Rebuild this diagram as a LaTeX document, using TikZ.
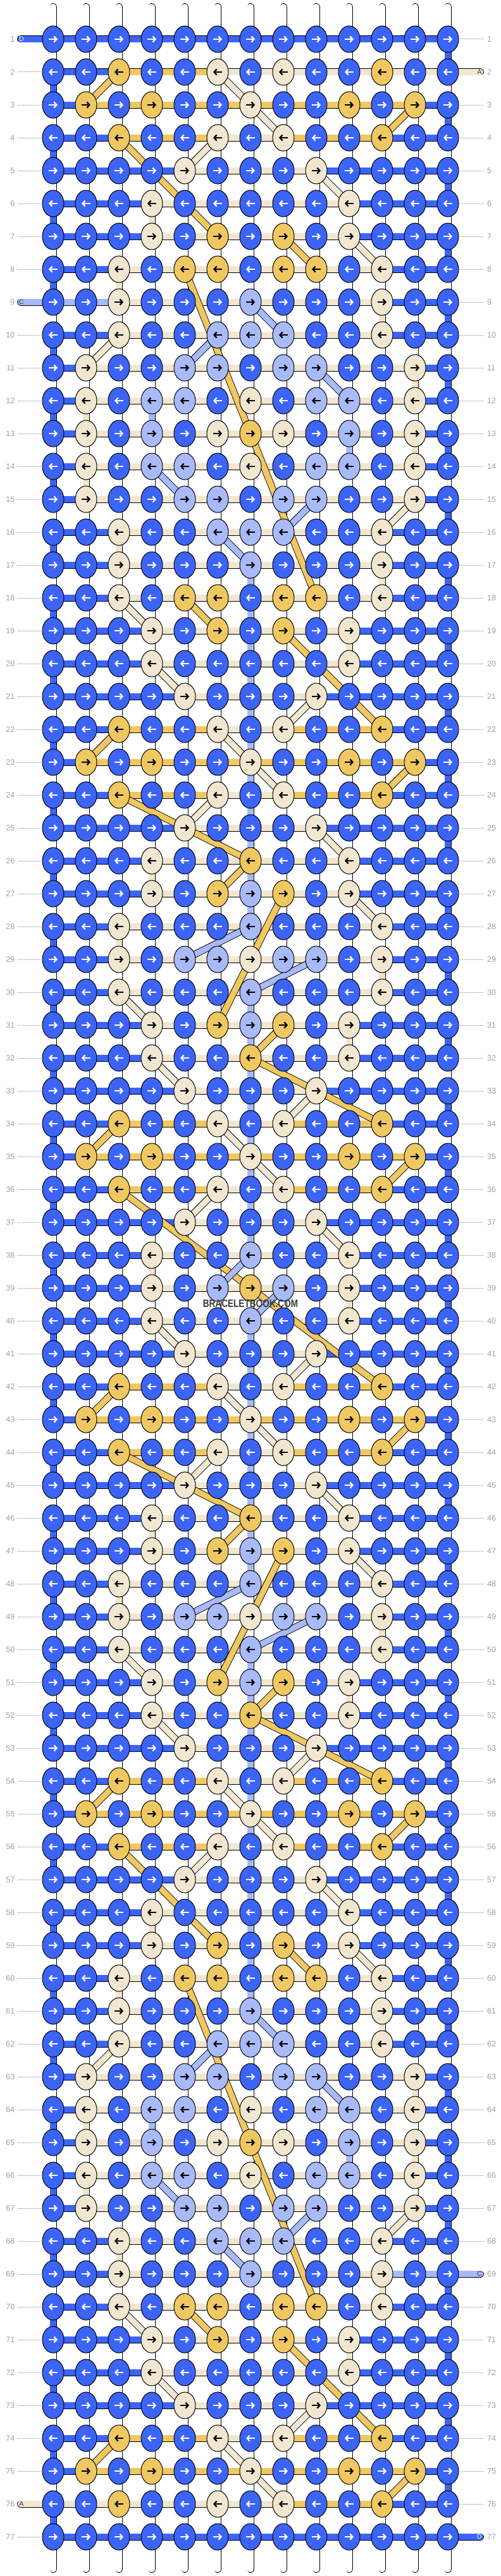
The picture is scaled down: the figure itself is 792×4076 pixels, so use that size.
\documentclass[tikz,border=0pt]{standalone}
\usepackage{fontspec}
\setmainfont{Liberation Sans}
\usetikzlibrary{shapes.geometric,arrows.meta}
\definecolor{cB}{HTML}{3C64F6}
\definecolor{cY}{HTML}{F0C862}
\definecolor{cC}{HTML}{F1E7D0}
\definecolor{cL}{HTML}{A8BAFA}
\definecolor{cW}{HTML}{FFFFFF}
\colorlet{aB}{white}
\colorlet{aY}{black}
\colorlet{aC}{black}
\colorlet{aL}{black}
\definecolor{numgray}{HTML}{A0A0A0}
\definecolor{linegray}{HTML}{C4C4C4}
\definecolor{wmgray}{HTML}{3C3C3C}
\definecolor{lblgray}{HTML}{333333}
\pgfdeclarelayer{bg}
\pgfsetlayers{bg,main}
\tikzset{
  knot/.style={ellipse, draw=black, line width=1pt, fill=c#1, minimum width=34pt, minimum height=42pt, inner sep=0pt},
  band/.style={draw=black, line width=0.9pt, double=c#1, double distance=9.2pt},
  arr/.style={draw=a#1, line width=2.3pt, -{Straight Barb[length=4pt,width=9pt]}},
  rownum/.style={text=numgray, font=\fontsize{12.5}{12.5}\selectfont, inner sep=0pt},
  rowline/.style={draw=linegray, line width=1pt},
  endlabel/.style={font=\fontsize{10.5}{10.5}\selectfont, inner sep=0pt},
}
\makeatletter
\newcount\kcnt
% knots of row #1 and of its 180-degree twin
\newcommand\KR[2]{%
  \ifodd#1\relax\def\dsg{1}\else\def\dsg{-1}\fi
  \pgfmathtruncatemacro\rtw{78-#1}%
  \kcnt=0
  \@tfor\ch:=#2\do{%
    \edef\ka{\the\kcnt}%
    \pgfmathtruncatemacro\kb{12-\kcnt}%
    \node[knot=\ch] (k-#1-\ka) at ({84+52*\ka},{10+52*#1}) {};
    \draw[arr=\ch] ([xshift={-7*\dsg}]k-#1-\ka.center) -- ([xshift={7*\dsg}]k-#1-\ka.center);
    \ifnum#1<39
      \node[knot=\ch] (k-\rtw-\kb) at ({84+52*\kb},{10+52*\rtw}) {};
      \draw[arr=\ch] ([xshift={-7*\dsg}]k-\rtw-\kb.center) -- ([xshift={7*\dsg}]k-\rtw-\kb.center);
    \fi
    \advance\kcnt by 1\relax}}
% horizontal threads of row #1 and twin
\newcommand\SR[2]{%
  \pgfmathtruncatemacro\rtw{78-#1}%
  \kcnt=0
  \@tfor\ch:=#2\do{%
    \edef\ka{\the\kcnt}%
    \pgfmathtruncatemacro\kn{\kcnt+1}%
    \draw[band=\ch] (k-#1-\ka.center) -- (k-#1-\kn.center);
    \ifnum#1<39
      \pgfmathtruncatemacro\kb{11-\kcnt}%
      \pgfmathtruncatemacro\kbn{12-\kcnt}%
      \draw[band=\ch] (k-\rtw-\kb.center) -- (k-\rtw-\kbn.center);
    \fi
    \advance\kcnt by 1\relax}}
% vertical threads between row #1 and #1+1, and twin
\newcommand\GR[2]{%
  \pgfmathtruncatemacro\rn{#1+1}%
  \pgfmathtruncatemacro\rta{77-#1}%
  \pgfmathtruncatemacro\rtb{78-#1}%
  \kcnt=0
  \@tfor\ch:=#2\do{%
    \edef\ka{\the\kcnt}%
    \pgfmathtruncatemacro\kb{12-\kcnt}%
    \draw[band=\ch] (k-#1-\ka.center) -- (k-\rn-\ka.center);
    \draw[band=\ch] (k-\rta-\kb.center) -- (k-\rtb-\kb.center);
    \advance\kcnt by 1\relax}}
\makeatother

\begin{document}
\begin{tikzpicture}[x=1pt,y=-1pt]
\path[use as bounding box] (0,0) rectangle (792,4076);
% ---------------- knots ----------------
\KR{1}{BBBBBBBBBBBBB}
\KR{2}{BBYBBCBCBBYBB}
\KR{3}{BYBYBBCBBYBYB}
\KR{4}{BBYBBCBCBBYBB}
\KR{5}{BBBBCBBBCBBBB}
\KR{6}{BBBCBBBBBCBBB}
\KR{7}{BBBCBYBYBCBBB}
\KR{8}{BBCBYYBYYBCBB}
\KR{9}{BBCBBBLBBBCBB}
\KR{10}{BBCBBLLLBBCBB}
\KR{11}{BCBBLLBLLBBCB}
\KR{12}{BCBLLBCBLLBCB}
\KR{13}{BCBLBCYCBLBCB}
\KR{14}{BCBLLBCBLLBCB}
\KR{15}{BCBBLLBLLBBCB}
\KR{16}{BBCBBLLLBBCBB}
\KR{17}{BBCBBBLBBBCBB}
\KR{18}{BBCBYYBYYBCBB}
\KR{19}{BBBCBYBYBCBBB}
\KR{20}{BBBCBBBBBCBBB}
\KR{21}{BBBBCBBBCBBBB}
\KR{22}{BBYBBCBCBBYBB}
\KR{23}{BYBYBBCBBYBYB}
\KR{24}{BBYBBCBCBBYBB}
\KR{25}{BBBBCBBBCBBBB}
\KR{26}{BBBCBBYBBCBBB}
\KR{27}{BBBCBYLYBCBBB}
\KR{28}{BBCBBBLBBBCBB}
\KR{29}{BBCBLLCLLBCBB}
\KR{30}{BBCBBBLBBBCBB}
\KR{31}{BBBCBYLYBCBBB}
\KR{32}{BBBCBBYBBCBBB}
\KR{33}{BBBBCBBBCBBBB}
\KR{34}{BBYBBCBCBBYBB}
\KR{35}{BYBYBBCBBYBYB}
\KR{36}{BBYBBCBCBBYBB}
\KR{37}{BBBBCBBBCBBBB}
\KR{38}{BBBCBBLBBCBBB}
\KR{39}{BBBCBLYLBCBBB}
% ---------------- threads ----------------
\begin{pgfonlayer}{bg}
\fill[white] (0,0) rectangle (792,4076);
\foreach \c in {0,...,12}{
  \coordinate (t-\c) at ({84+52*\c},10.5);
  \coordinate (b-\c) at ({84+52*\c},4065.5);
  \draw[band=W, line cap=round] (t-\c) -- (k-1-\c.center);
  \draw[band=W, line cap=round] (b-\c) -- (k-77-\c.center);
}
\GR{1}{WWWWWWWWWWWWB}
\GR{2}{BWWWWWWWWWWWW}
\GR{3}{WWWWWWWWWWWWB}
\GR{4}{BWWWWWWWWWWWW}
\GR{5}{WWWWWWWWWWWWB}
\GR{6}{BWWCWWWWWWWWW}
\GR{7}{WWWWWWWWWWWWB}
\GR{8}{BWCWWWWWWWWWW}
\GR{9}{WWWWWWWWWWCWB}
\GR{10}{BWWWWWWWWWWWW}
\GR{11}{WWWWWWWWWWWCB}
\GR{12}{BCWLWWWWWWWWW}
\GR{13}{WWWWWWWWWLWCB}
\GR{14}{BCWWWWWWWWWWW}
\GR{15}{WWWWWWWWWWWWB}
\GR{16}{BWCWWWWWWWWWW}
\GR{17}{WWWWWWLWWWCWB}
\GR{18}{BWWWWWLWWWWWW}
\GR{19}{WWWWWWLWWCWWB}
\GR{20}{BWWWWWLWWWWWW}
\GR{21}{WWWWWWLWWWWWB}
\GR{22}{BWWWWWLWWWWWW}
\GR{23}{WWWWWWLWWWWWB}
\GR{24}{BWWWWWLWWWWWW}
\GR{25}{WWWWWWLWWWWWB}
\GR{26}{BWWCWWLWWWWWW}
\GR{27}{WWWWWWLWWWWWB}
\GR{28}{BWCWWWWWWWWWW}
\GR{29}{WWWWWWWWWWCWB}
\GR{30}{BWWWWWLWWWWWW}
\GR{31}{WWWWWWLWWCWWB}
\GR{32}{BWWWWWLWWWWWW}
\GR{33}{WWWWWWLWWWWWB}
\GR{34}{BWWWWWLWWWWWW}
\GR{35}{WWWWWWLWWWWWB}
\GR{36}{BWWWWWLWWWWWW}
\GR{37}{WWWWWWLWWWWWB}
\GR{38}{BWWCWWWWWWWWW}
\SR{1}{BBBBBBBBBBBB}
\SR{2}{BBYYYCCCCCCC}
\SR{3}{BYYYYYYYYYYB}
\SR{4}{BBYYYCCYYYBB}
\SR{5}{BBBBCCCCBBBB}
\SR{6}{BBBCCCCCCBBB}
\SR{7}{BBBCCCCCCBBB}
\SR{8}{BBCCCCCCCCBB}
\SR{9}{LLCCCCCCCCBB}
\SR{10}{BBCCCCCCCCBB}
\SR{11}{BCCCCCCCCCCB}
\SR{12}{BCCCCCCCCCCB}
\SR{13}{BCCCCCCCCCCB}
\SR{14}{BCCCCCCCCCCB}
\SR{15}{BCCCCCCCCCCB}
\SR{16}{BBCCCCCCCCBB}
\SR{17}{BBCCCCCCCCBB}
\SR{18}{BBCCCCCCCCBB}
\SR{19}{BBBCCCCCCBBB}
\SR{20}{BBBCCCCCCBBB}
\SR{21}{BBBBCCCCBBBB}
\SR{22}{BBYYYCCYYYBB}
\SR{23}{BYYYYYYYYYYB}
\SR{24}{BBYYYCCYYYBB}
\SR{25}{BBBBCCCCBBBB}
\SR{26}{BBBCCCCCCBBB}
\SR{27}{BBBCCCCCCBBB}
\SR{28}{BBCCCCCCCCBB}
\SR{29}{BBCCCCCCCCBB}
\SR{30}{BBCCCCCCCCBB}
\SR{31}{BBBCCCCCCBBB}
\SR{32}{BBBCCCCCCBBB}
\SR{33}{BBBBCCCCBBBB}
\SR{34}{BBYYYCCYYYBB}
\SR{35}{BYYYYYYYYYYB}
\SR{36}{BBYYYCCYYYBB}
\SR{37}{BBBBCCCCBBBB}
\SR{38}{BBBCCCCCCBBB}
\SR{39}{BBBCCCCCCBBB}
% end strands
\coordinate (e-1) at (32.5,62);
\coordinate (e-9) at (32.5,478);
\coordinate (e-76) at (32.5,3962);
\coordinate (e-2) at (759.5,114);
\coordinate (e-69) at (759.5,3598);
\coordinate (e-77) at (759.5,4014);
\draw[band=B, line cap=round] (e-1) -- (k-1-0.center);
\draw[band=L, line cap=round] (e-9) -- (k-9-0.center);
\draw[band=C, line cap=round] (e-76) -- (k-76-0.center);
\draw[band=C, line cap=round] (e-2) -- (k-2-12.center);
\draw[band=L, line cap=round] (e-69) -- (k-69-12.center);
\draw[band=B, line cap=round] (e-77) -- (k-77-12.center);
% diagonal threads (and their 180-degree twins)
\foreach \co/\dra/\dca/\drb/\dcb in {
  Y/2/2/3/1, Y/3/11/4/10, Y/4/2/7/5, Y/7/7/8/8, Y/8/4/18/8, Y/18/4/19/5,
  Y/19/7/22/10, Y/22/2/23/1, Y/23/11/24/10, Y/24/2/26/6, Y/26/6/27/5,
  Y/27/7/31/5, Y/31/7/32/6, Y/32/6/34/10, Y/34/2/35/1, Y/35/11/36/10, Y/36/2/39/6,
  C/2/5/4/7, C/4/5/5/4, C/5/8/6/9, C/7/9/8/10, C/10/2/11/1, C/15/11/16/10,
  C/18/2/19/3, C/20/3/21/4, C/21/8/22/7, C/22/5/24/7, C/24/5/25/4, C/25/8/26/9,
  C/27/9/28/10, C/30/2/31/3, C/32/3/33/4, C/33/8/34/7, C/34/5/36/7, C/36/5/37/4,
  C/37/8/38/9,
  L/9/6/10/7, L/10/5/11/4, L/11/8/12/9, L/14/3/15/4, L/15/8/16/7, L/16/5/17/6,
  L/28/6/29/4, L/29/8/30/6, L/38/6/39/5}{
  \pgfmathtruncatemacro\tra{78-\dra}
  \pgfmathtruncatemacro\tca{12-\dca}
  \pgfmathtruncatemacro\trb{78-\drb}
  \pgfmathtruncatemacro\tcb{12-\dcb}
  \draw[band=\co] (k-\dra-\dca.center) -- (k-\drb-\dcb.center);
  \draw[band=\co] (k-\tra-\tca.center) -- (k-\trb-\tcb.center);
}
\end{pgfonlayer}
% ---------------- labels ----------------
\node[endlabel, text=white] (lab-1) at (34,62) {D};
\node[endlabel, text=lblgray] (lab-9) at (34,478) {C};
\node[endlabel, text=lblgray] (lab-76) at (34,3962) {A};
\node[endlabel, text=lblgray] (lab-2) at (758,114) {A};
\node[endlabel, text=lblgray] (lab-69) at (758,3598) {C};
\node[endlabel, text=white] (lab-77) at (758,4014) {D};
\foreach \r in {1,...,77}{
  \pgfmathtruncatemacro\yy{10+52*\r}
  \node[rownum, anchor=east] (nl-\r) at (23.5,\yy) {\r};
  \node[rownum, anchor=west] (nr-\r) at (770,\yy) {\r};
  \coordinate (gl-\r) at (27,\yy);
  \coordinate (gr-\r) at (765,\yy);
  \ifnum\r=1 \else\ifnum\r=9 \else\ifnum\r=76 \else
    \draw[rowline] (gl-\r) -- (k-\r-0.west);
  \fi\fi\fi
  \ifnum\r=2 \else\ifnum\r=69 \else\ifnum\r=77 \else
    \draw[rowline] (k-\r-12.east) -- (gr-\r);
  \fi\fi\fi
}
\node[text=wmgray, font=\bfseries\fontsize{17}{17}\selectfont, inner sep=0pt] (wm) at (396,2063) {\scalebox{0.8}[1]{BRACELETBOOK.COM}};
\end{tikzpicture}
\end{document}
